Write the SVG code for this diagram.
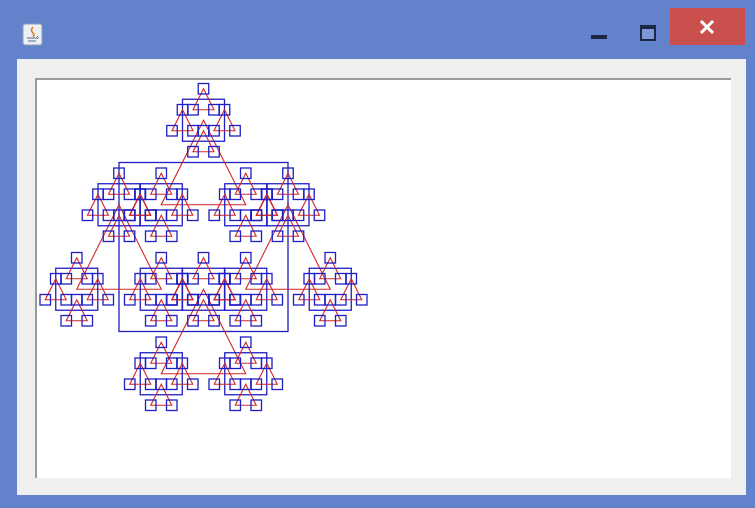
<svg xmlns="http://www.w3.org/2000/svg" xmlns:xlink="http://www.w3.org/1999/xlink" width="755" height="508" viewBox="0 0 755 508">
<style>
.b{fill:none;stroke:#1f1fc4;stroke-width:1.3}
.r{fill:none;stroke:#d02828;stroke-width:1.1}
</style>
<defs>
<rect id="s0" class="b" x="-5.25" y="-5.25" width="10.5" height="10.5"/>
<g id="c1">
<rect class="b" x="-21" y="-21" width="42" height="42"/>
<polygon class="r" points="0,-31.5 -10.5,-10.5 10.5,-10.5"/>
<polygon class="r" points="-21,-10.5 -31.5,10.5 -10.5,10.5"/>
<polygon class="r" points="21,-10.5 10.5,10.5 31.5,10.5"/>
<polygon class="r" points="0,10.5 -10.5,31.5 10.5,31.5"/>
<use xlink:href="#s0" x="0" y="-31.5"/>
<use xlink:href="#s0" x="-10.5" y="-10.5"/>
<use xlink:href="#s0" x="10.5" y="-10.5"/>
<use xlink:href="#s0" x="-21" y="-10.5"/>
<use xlink:href="#s0" x="-31.5" y="10.5"/>
<use xlink:href="#s0" x="-10.5" y="10.5"/>
<use xlink:href="#s0" x="21" y="-10.5"/>
<use xlink:href="#s0" x="10.5" y="10.5"/>
<use xlink:href="#s0" x="31.5" y="10.5"/>
<use xlink:href="#s0" x="0" y="10.5"/>
<use xlink:href="#s0" x="-10.5" y="31.5"/>
<use xlink:href="#s0" x="10.5" y="31.5"/>
</g>
</defs>
<g id="window">
<rect x="0" y="0" width="755" height="508" fill="#6283cc"/>
<rect x="17" y="59" width="729" height="436" fill="#efefef"/>
<rect x="36" y="79" width="695" height="399" fill="#ffffff"/>
<line x1="35" y1="79" x2="731" y2="79" stroke="#9a9a9a" stroke-width="2"/>
<line x1="36" y1="79" x2="36" y2="478" stroke="#9a9a9a" stroke-width="2"/>
</g>
<g id="titlebar">
<g id="icon">
<rect x="23" y="24" width="19" height="21" rx="2" fill="#eceff4" stroke="#8e9ab4"/>
<path d="M33,27 q-3,3 0,6 q2,2 0,4" fill="none" stroke="#e07a1a" stroke-width="1.5"/>
<path d="M27,38 h10 M28,41 h8" stroke="#5a6a8a" stroke-width="1.2"/>
<path d="M37,36 q3,1.5 0,3" fill="none" stroke="#5a6a8a"/>
</g>
<rect id="minimize" x="591" y="35" width="16" height="4" fill="#1c2746"/>
<g id="maximize">
<rect x="641" y="26" width="14" height="14" fill="#7a96d4" stroke="#1c2746" stroke-width="2"/>
<rect x="640" y="25" width="16" height="4" fill="#1c2746"/>
</g>
<g id="close">
<rect x="670" y="8" width="75" height="37" fill="#c9504c"/>
<path d="M702,22 L712,32 M712,22 L702,32" stroke="#ffffff" stroke-width="3" stroke-linecap="square"/>
</g>
</g>
<g id="fractal" transform="translate(0,1)">
<rect class="b" x="119" y="161.5" width="169" height="169"/>
<g id="connectors">
<polygon class="r" points="203.5,119.25 161.25,203.75 245.75,203.75"/>
<polygon class="r" points="119,203.75 76.75,288.25 161.25,288.25"/>
<polygon class="r" points="288,203.75 245.75,288.25 330.25,288.25"/>
<polygon class="r" points="203.5,288.25 161.25,372.75 245.75,372.75"/>
</g>
<use id="n1" xlink:href="#c1" x="203.5" y="119.25"/>
<use id="n2" xlink:href="#c1" x="161.25" y="203.75"/>
<use id="n3" xlink:href="#c1" x="245.75" y="203.75"/>
<use id="n4" xlink:href="#c1" x="119" y="203.75"/>
<use id="n5" xlink:href="#c1" x="76.75" y="288.25"/>
<use id="n6" xlink:href="#c1" x="161.25" y="288.25"/>
<use id="n7" xlink:href="#c1" x="288" y="203.75"/>
<use id="n8" xlink:href="#c1" x="245.75" y="288.25"/>
<use id="n9" xlink:href="#c1" x="330.25" y="288.25"/>
<use id="n10" xlink:href="#c1" x="203.5" y="288.25"/>
<use id="n11" xlink:href="#c1" x="161.25" y="372.75"/>
<use id="n12" xlink:href="#c1" x="245.75" y="372.75"/>
</g>
</svg>
